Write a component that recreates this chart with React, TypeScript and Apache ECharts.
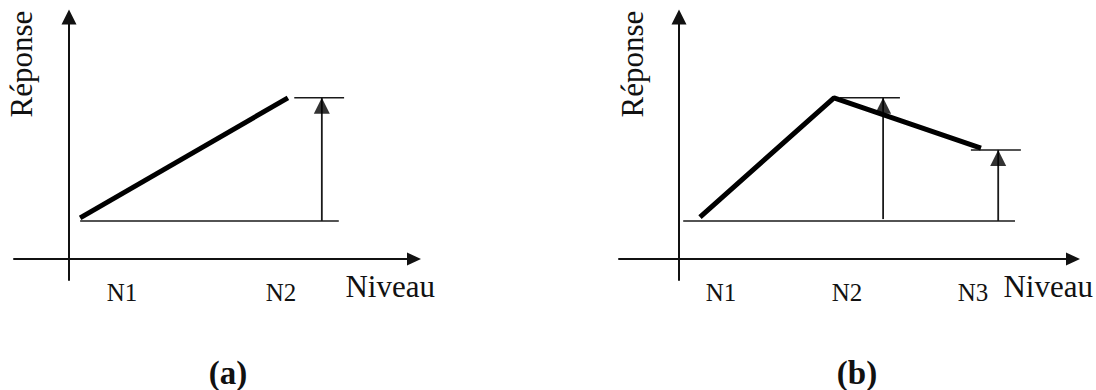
import React, { useEffect, useRef } from "react";
import * as echarts from "echarts";

// ---- data (levels on x, response on y) ----
const levelValuesA = [1, 4];
const levelLabelsA = ["N1", "N2"];
const curveA = [[0.21, 1.08], [4.13, 4.24]];
const baselineA = [[0.21, 1.0], [5.09, 1.0]];
const tickA = [[4.25, 4.24], [5.19, 4.24]];
const arrowA = [[4.77, 1.0], [4.77, 4.24]];

const levelValuesB = [1, 4, 7];
const levelLabelsB = ["N1", "N2", "N3"];
const curveB = [[0.5, 1.1], [3.69, 4.24], [7.19, 2.92]];
const baselineB = [[0.1, 1.0], [8.0, 1.0]];
const tick1B = [[3.83, 4.24], [5.26, 4.24]];
const tick2B = [[6.95, 2.87], [8.14, 2.87]];
const arrow1B = [[4.86, 1.05], [4.86, 4.24]];
const arrow2B = [[7.6, 1.0], [7.6, 2.87]];

const axisTitleX = "Niveau";
const axisTitleY = "Réponse";
const panelTitles = ["(a)", "(b)"];

const SERIF = "'Liberation Serif', 'DejaVu Serif', serif";
const INK = "#111";

function xAxisFor(gridIndex: number, min: number, max: number, values: number[], labels: string[], nameGap: number) {
  return {
    type: "value",
    gridIndex,
    min,
    max,
    name: axisTitleX,
    nameLocation: "end",
    nameGap,
    nameTextStyle: {
      fontFamily: SERIF,
      fontSize: 31,
      color: INK,
      align: "right",
      verticalAlign: "top",
      padding: [12, 0, 0, 0],
    },
    splitLine: { show: false },
    axisTick: { show: false },
    axisLine: {
      show: true,
      onZero: true,
      symbol: ["none", "triangle"],
      symbolSize: [13, 14],
      lineStyle: { color: INK, width: 2 },
    },
    axisLabel: {
      show: true,
      customValues: values,
      formatter: (v: number) => {
        const i = values.indexOf(v);
        return i >= 0 ? labels[i] : "";
      },
      fontFamily: SERIF,
      fontSize: 25,
      color: INK,
      margin: 0,
    },
  };
}

function yAxisFor(gridIndex: number) {
  return {
    type: "value",
    gridIndex,
    min: -0.553,
    max: 6.368,
    splitLine: { show: false },
    axisTick: { show: false },
    axisLabel: { show: false },
    axisLine: {
      show: true,
      onZero: true,
      symbol: ["none", "triangle"],
      symbolSize: [15, 15],
      lineStyle: { color: INK, width: 2 },
    },
  };
}

function thinSeg(xi: number, pts: number[][], width = 1.5) {
  return {
    type: "line",
    xAxisIndex: xi,
    yAxisIndex: xi,
    data: pts,
    symbol: "none",
    silent: true,
    lineStyle: { color: "#1a1a1a", width },
    z: 2,
  };
}

function arrowHeads(xi: number, arrows: number[][][]) {
  return {
    type: "scatter",
    xAxisIndex: xi,
    yAxisIndex: xi,
    data: arrows.map((a) => a[1]),
    symbol: "triangle",
    symbolSize: [16, 16],
    symbolOffset: [0, 8],
    itemStyle: { color: "#000" },
    silent: true,
    clip: false,
    z: 4,
  };
}

export default function App() {
  const ref = useRef<HTMLDivElement>(null);
  useEffect(() => {
    if (!ref.current) return;
    const chart = echarts.init(ref.current, null, { renderer: "svg" });
    chart.setOption({
      animation: false,
      backgroundColor: "#fff",
      grid: [
        { left: 14, top: 17, width: 400, height: 263 },
        { left: 619, top: 17, width: 454, height: 263 },
      ],
      xAxis: [
        xAxisFor(0, -1.038, 6.509, levelValuesA, levelLabelsA, 21),
        xAxisFor(1, -1.4286, 9.381, levelValuesB, levelLabelsB, 20),
      ],
      yAxis: [yAxisFor(0), yAxisFor(1)],
      series: [
        {
          type: "line",
          xAxisIndex: 0,
          yAxisIndex: 0,
          data: curveA,
          symbol: "none",
          silent: true,
          lineStyle: { color: "#000", width: 5 },
          z: 3,
        },
        thinSeg(0, baselineA),
        thinSeg(0, tickA),
        thinSeg(0, arrowA, 1.8),
        arrowHeads(0, [arrowA]),
        {
          type: "line",
          xAxisIndex: 1,
          yAxisIndex: 1,
          data: curveB,
          symbol: "none",
          silent: true,
          lineStyle: { color: "#000", width: 5 },
          z: 3,
        },
        thinSeg(1, baselineB),
        thinSeg(1, tick1B),
        thinSeg(1, tick2B),
        thinSeg(1, arrow1B, 1.8),
        thinSeg(1, arrow2B, 1.8),
        arrowHeads(1, [arrow1B, arrow2B]),
      ],
      graphic: [
        {
          type: "text",
          x: 21.5,
          y: 64,
          rotation: Math.PI / 2,
          style: { text: axisTitleY, fontFamily: SERIF, fontSize: 31, fill: INK, align: "center", verticalAlign: "middle" },
        },
        {
          type: "text",
          x: 632.5,
          y: 64,
          rotation: Math.PI / 2,
          style: { text: axisTitleY, fontFamily: SERIF, fontSize: 31, fill: INK, align: "center", verticalAlign: "middle" },
        },
        {
          type: "text",
          x: 228,
          y: 373,
          style: { text: panelTitles[0], fontFamily: SERIF, fontSize: 33, fontWeight: "bold", fill: INK, align: "center", verticalAlign: "middle" },
        },
        {
          type: "text",
          x: 857,
          y: 373,
          style: { text: panelTitles[1], fontFamily: SERIF, fontSize: 33, fontWeight: "bold", fill: INK, align: "center", verticalAlign: "middle" },
        },
      ],
    });
    return () => chart.dispose();
  }, []);
  return <div ref={ref} style={{ position: "fixed", left: 0, top: 0, width: 1096, height: 390 }} />;
}
